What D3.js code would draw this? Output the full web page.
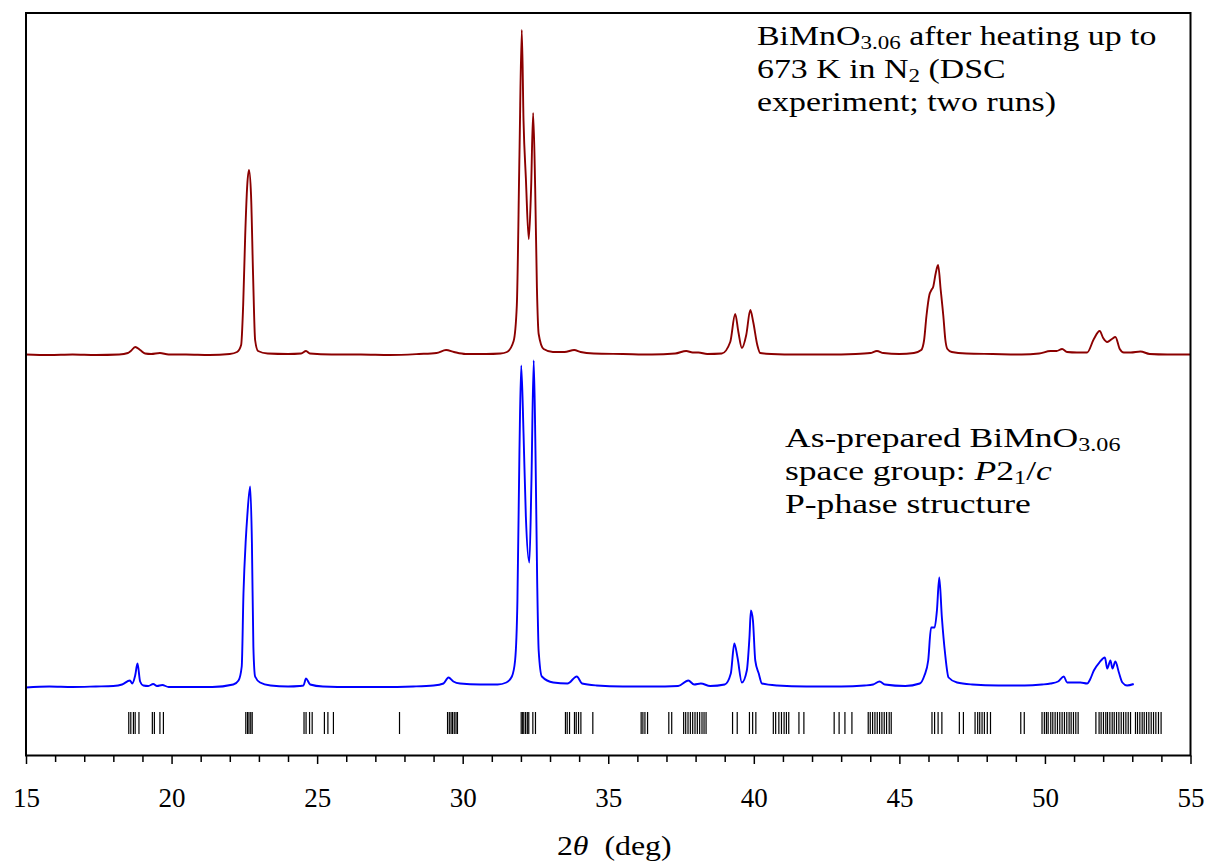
<!DOCTYPE html>
<html><head><meta charset="utf-8">
<script src="https://cdn.jsdelivr.net/npm/d3@7"></script>
<style>
body{margin:0;background:#fff}
svg{display:block}
text{font-family:"Liberation Serif","Times New Roman",serif;fill:#000}
</style>
</head><body>
<svg id="chart" width="1209" height="863"></svg>
<script>
// ---- data ----
const heatedTwoTheta = [15.0,15.8,16.6,17.4,18.2,18.5,18.6,18.75,18.92,19.09,19.3,19.6,19.9,20.5,21.3,22.0,22.25,22.39,22.46,22.53,22.6,22.66,22.73,22.8,22.87,22.97,23.3,24.0,24.45,24.62,24.75,25.5,26.5,27.5,28.5,29.1,29.43,29.7,30.1,30.8,31.3,31.52,31.75,31.86,31.95,32.03,32.09,32.17,32.27,32.35,32.42,32.49,32.55,32.61,32.78,33.1,33.5,33.83,34.05,34.5,35.5,36.5,37.3,37.68,37.9,38.1,38.4,38.9,39.19,39.36,39.47,39.59,39.74,39.88,39.98,40.12,40.22,40.6,41.5,42.5,43.5,44.0,44.23,44.45,45.0,45.5,45.75,45.85,45.93,46.03,46.1,46.16,46.25,46.33,46.42,46.51,46.58,46.65,46.8,47.3,48.2,49.2,49.8,50.19,50.4,50.59,50.76,51.1,51.45,51.68,51.88,52.0,52.14,52.3,52.42,52.57,52.71,52.95,53.28,53.6,54.2,55.0];
const heatedIntensity = [0.5,0,0.5,0,0.5,2,4,8,5,1.5,1,2,0.5,0.5,0,1,3,10,50,120,170,185,160,80,15,4,1.5,1,1.5,4,1.5,0.5,0.5,0,1,2,5,3,1,1,1.5,3,14,50,200,325,234,177,116,167,242,167,67,21,6,3,3,5,3,1.5,1,0.5,1.5,4,2.5,2.5,1,1.5,13,41,23,7,20,45,33,10,2,1,0.5,0.5,1,2,4,2,1,2,5,15,39,60,65,68,82,90,65,39,15,6,3,1.5,1,0.5,1.5,4,4,6,3,2.5,2.5,16,24,17,13,16,18,6,2.5,2.5,3.5,1,0.5,0.5];

const preparedTwoTheta = [15.0,15.8,16.6,17.4,18.0,18.3,18.57,18.65,18.75,18.83,18.92,19.03,19.2,19.37,19.5,19.68,19.9,20.6,21.4,22.12,22.3,22.41,22.47,22.55,22.6,22.7,22.76,22.81,22.87,23.04,23.4,24.0,24.4,24.53,24.62,24.76,25.2,26.2,27.2,28.3,29.0,29.34,29.51,29.68,29.91,30.6,31.2,31.5,31.69,31.8,31.88,31.95,32.01,32.09,32.17,32.29,32.36,32.44,32.5,32.56,32.61,32.72,33.11,33.6,33.92,34.1,34.6,35.5,36.5,37.4,37.75,37.95,38.18,38.5,39.0,39.21,39.33,39.44,39.59,39.76,39.85,39.9,39.97,40.05,40.17,40.28,40.8,41.8,43.0,43.8,44.1,44.32,44.5,45.2,45.7,45.86,45.99,46.09,46.21,46.29,46.37,46.46,46.57,46.69,46.98,47.5,48.4,49.3,49.9,50.19,50.45,50.65,50.76,51.22,51.45,51.55,51.68,51.87,52.06,52.14,52.25,52.32,52.42,52.54,52.66,52.82,53.05];
const preparedIntensity = [0,1,0.5,1,1.5,3,7,4,12,24,6,2,1.5,3.5,1.5,2.5,0.5,0.5,0.5,3,7,21,94,148,171,201,145,41,11,5,2,1,1.5,2,9,3,1,0.5,0.5,1,2,4,10,6,4,3,3,5,11,27,87,237,322,254,171,125,204,327,237,104,37,11,5,4,11,4,2,1,1,1.5,7,3,4,1.5,3,14,44,30,5,17,50,77,67,27,14,4,2,1,1,2,3,6,3,1.5,4,12,27,60,60,77,110,70,34,10,5,3,2,2,3,4,6,11,5,5,4,8,17,25,30,19,27,19,26,15,5,2,3.5];

const reflectionPositions = [18.53,18.6,18.69,18.75,18.88,19.34,19.41,19.6,19.72,22.55,22.61,22.66,22.72,22.77,24.55,24.62,24.74,24.83,25.25,25.37,25.56,27.83,29.48,29.54,29.6,29.65,29.71,29.77,29.82,32.01,32.06,32.1,32.16,32.22,32.27,32.41,32.5,33.53,33.59,33.67,33.84,33.9,33.98,34.06,34.47,36.13,36.19,36.26,36.35,37.08,37.18,37.59,37.66,37.74,37.82,37.9,37.98,38.06,38.14,38.22,38.29,38.36,39.27,39.43,39.85,39.96,40.07,40.67,40.75,40.86,40.95,41.04,41.12,41.2,41.55,41.72,42.76,42.93,43.13,43.37,43.93,44.0,44.08,44.16,44.24,44.32,44.4,44.48,44.56,44.65,44.72,46.12,46.21,46.33,46.46,47.06,47.2,47.6,47.69,47.76,47.84,47.92,48.02,48.13,49.17,49.29,49.9,49.98,50.05,50.11,50.2,50.27,50.35,50.43,50.51,50.59,50.67,50.75,50.83,50.9,50.98,51.06,51.14,51.75,51.86,51.93,52.01,52.09,52.15,52.23,52.31,52.38,52.46,52.54,52.62,52.7,52.78,52.86,52.94,53.11,53.18,53.26,53.34,53.41,53.49,53.57,53.65,53.73,53.81,53.9,53.99];

const xMajorTicks = [15,20,25,30,35,40,45,50,55];
const xMinorTicks = d3.range(15,56,1);
const heatedOffset = 332.5;
const preparedOffset = 0;

// ---- layout ----
const L = 26, R = 1190.5, T = 13, B = 755.5;
const svg = d3.select("#chart");
const x = d3.scaleLinear().domain([15,55]).range([L,R]);
const y = d3.scaleLinear().domain([-68,674.5]).range([B,T]);

// reflection markers
svg.append("g").selectAll("line").data(reflectionPositions).join("line")
  .attr("x1", d=>x(d)).attr("x2", d=>x(d))
  .attr("y1", 712).attr("y2", 734)
  .attr("stroke","#000").attr("stroke-width",1.2);

function series(tt, ii, off){ return tt.map((t,i)=>[t, ii[i]+off]); }
const line = d3.line().x(d=>x(d[0])).y(d=>y(d[1])).curve(d3.curveMonotoneX);

svg.append("path").datum(series(preparedTwoTheta, preparedIntensity, preparedOffset))
  .attr("d", line).attr("fill","none").attr("stroke","#0000ff").attr("stroke-width",1.9).attr("stroke-linejoin","round");
svg.append("path").datum(series(heatedTwoTheta, heatedIntensity, heatedOffset))
  .attr("d", line).attr("fill","none").attr("stroke","#8b0000").attr("stroke-width",1.9).attr("stroke-linejoin","round");

// frame
svg.append("rect").attr("x",L).attr("y",T).attr("width",R-L).attr("height",B-T)
  .attr("fill","none").attr("stroke","#000").attr("stroke-width",2);

// axis
const minorAxis = d3.axisBottom(x).tickValues(xMinorTicks.filter(v=>v%5!==0)).tickSize(6.5).tickFormat("").tickSizeOuter(0);
const majorAxis = d3.axisBottom(x).tickValues(xMajorTicks).tickSize(8.5).tickPadding(24).tickSizeOuter(0).tickFormat(d3.format("d"));
const gMin = svg.append("g").attr("transform",`translate(0,${B})`).call(minorAxis);
const gMaj = svg.append("g").attr("transform",`translate(0,${B})`).call(majorAxis);
[gMin,gMaj].forEach(g=>{
  g.select(".domain").remove();
  g.selectAll(".tick line").attr("stroke","#000").attr("stroke-width",1.5);
});
gMaj.selectAll(".tick text").attr("font-size",27).attr("fill","#000");

// axis title
const xt = svg.append("text").attr("transform",`translate(${(L+R)/2+6},855) scale(1.18,1)`)
  .attr("text-anchor","middle").attr("font-size",27);
xt.append("tspan").text("2");
xt.append("tspan").attr("font-style","italic").text("θ");
xt.append("tspan").text("\u00a0 (deg)");

// annotations
function block(x0, y0, sx){ return svg.append("text").attr("transform",`translate(${x0},${y0}) scale(${sx},1)`).attr("font-size",28); }
function sub(t, s){ t.append("tspan").attr("font-size",19).attr("dy",4).text(s); }
const a1 = block(757,45,1.21);
a1.append("tspan").text("BiMnO"); sub(a1,"3.06"); a1.append("tspan").attr("dy",-4).text(" after heating up to");
const a2 = block(757,78,1.21);
a2.append("tspan").text("673 K in N"); sub(a2,"2"); a2.append("tspan").attr("dy",-4).text(" (DSC");
block(757,111,1.21).text("experiment; two runs)");

const b1 = block(785,447,1.27);
b1.append("tspan").text("As-prepared BiMnO"); sub(b1,"3.06");
const b2 = block(785,480,1.27);
b2.append("tspan").text("space group: ");
b2.append("tspan").attr("font-style","italic").text("P");
b2.append("tspan").text("2");
sub(b2,"1");
b2.append("tspan").attr("dy",-4).text("/");
b2.append("tspan").attr("font-style","italic").text("c");
block(785,513,1.27).text("P-phase structure");
</script>
</body></html>
